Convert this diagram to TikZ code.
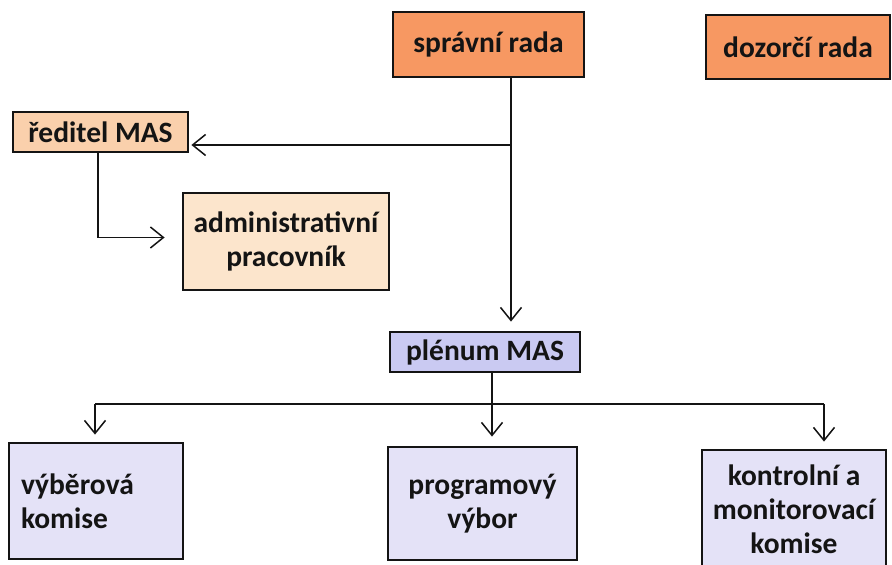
\documentclass[tikz,border=0pt]{standalone}
\usepackage{fontspec}
\setmainfont{Carlito}
\usetikzlibrary{arrows.meta}
\definecolor{orangeA}{RGB}{247,152,98}
\definecolor{peachA}{RGB}{250,208,172}
\definecolor{peachB}{RGB}{252,229,204}
\definecolor{lavA}{RGB}{202,202,242}
\definecolor{lavB}{RGB}{228,226,247}
\definecolor{ink}{RGB}{20,20,20}
\tikzset{
  box/.style={draw=ink, line width=2.8pt, inner sep=0pt, font=\fontsize{29.5}{34}\selectfont\bfseries, text=ink, align=center},
  conn/.style={draw=ink, line width=1.5pt},
  arr/.style={conn, -{Straight Barb[length=13pt,width=21pt,line width=1.5pt]}},
}
\begin{document}
\begin{tikzpicture}[x=1pt,y=1pt]
\useasboundingbox (0,0) rectangle (892,565);
\clip (0,0) rectangle (892,565);
\fill[white] (0,0) rectangle (892,565);
% top row
\node[box, fill=orangeA, minimum width=191pt, minimum height=65pt] (spr) at (488.5,520.5) {správní rada};
\node[box, fill=orangeA, minimum width=184pt, minimum height=64pt] (doz) at (798,518) {dozorčí rada};
% left branch
\node[box, fill=peachA, minimum width=175pt, minimum height=40pt] (red) at (100.5,433) {ředitel MAS};
\node[box, fill=peachB, minimum width=206pt, minimum height=97pt] (adm) at (286,323.5) {administrativní\\pracovník};
% plenum
\node[box, fill=lavA, minimum width=190pt, minimum height=40pt] (plen) at (485,213) {plénum MAS};
% bottom row
\node[box, fill=lavB, minimum width=174pt, minimum height=116pt, align=left, text width=150pt] (vyb) at (96,64) {výběrová\\komise};
\node[box, fill=lavB, minimum width=189pt, minimum height=113pt] (prog) at (482.5,61.5) {programový\\výbor};
\node[box, fill=lavB, minimum width=184pt, minimum height=118pt] (kon) at (794,56) {kontrolní a\\monitorovací\\komise};
% connector coordinates
\coordinate (tr) at (511,420);
\coordinate (pm) at (492,161);
\coordinate (hl) at (95,161);
\coordinate (hr) at (824,161);
% connectors
\draw[arr, shorten >=9pt] (tr |- spr.south) -- (tr |- plen.north);
\draw[arr, shorten >=2pt] (tr) -- (tr -| red.east);
\draw[arr, shorten >=17pt] ([xshift=-2.5pt]red.south) |- ([yshift=4pt]adm.west);
\draw[conn] (hl) -- (hr);
\draw[arr, shorten >=9pt] (pm |- plen.south) -- (pm |- prog.north);
\draw[arr, shorten >=7pt] (hl) -- (hl |- vyb.north);
\draw[arr, shorten >=7pt] (hr) -- (hr |- kon.north);
\end{tikzpicture}
\end{document}
